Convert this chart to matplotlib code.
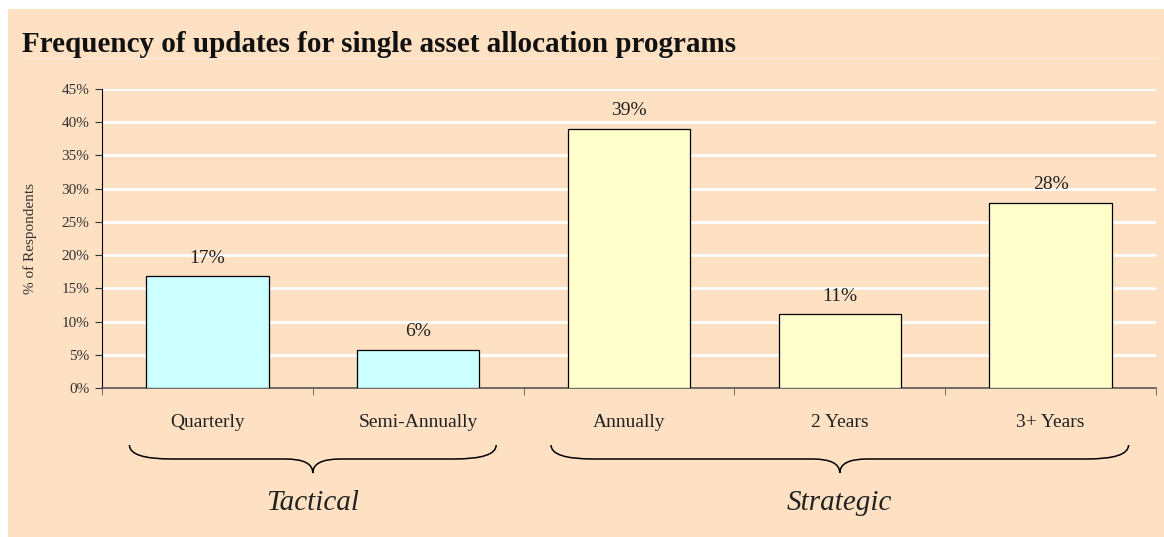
import matplotlib
matplotlib.use("Agg")
import matplotlib.pyplot as plt
from matplotlib.patches import Rectangle, PathPatch
from matplotlib.path import Path
from matplotlib.lines import Line2D
import matplotlib.transforms as mtransforms

# data
categories = ["Quarterly", "Semi-Annually", "Annually", "2 Years", "3+ Years"]
values = [16.8, 5.7, 39.0, 11.1, 27.9]
value_labels = ["17%", "6%", "39%", "11%", "28%"]
groups = ["Tactical", "Tactical", "Strategic", "Strategic", "Strategic"]
group_names = ["Tactical", "Strategic"]
y_ticks = [0, 5, 10, 15, 20, 25, 30, 35, 40, 45]

peach = "#FEE0C3"
bar_colors = {"Tactical": "#CCFFFF", "Strategic": "#FFFFCC"}

plt.rcParams["font.family"] = ["Liberation Serif", "DejaVu Serif"]

W, H = 1164, 537
fig = plt.figure(figsize=(W / 100, H / 100), dpi=100)
fig.patch.set_facecolor("white")

# peach panel with small white margin top/left
fig.patches.append(Rectangle((8 / W, 0), 1 - 8 / W, 1 - 9 / H, transform=fig.transFigure,
                             facecolor=peach, edgecolor="none", zorder=-5))

# title + faint rule under it
fig.text(22 / W, 1 - 45 / H, "Frequency of updates for single asset allocation programs",
         fontsize=21, fontweight="bold", va="center", ha="left", color="#111111")
fig.lines.append(Line2D([22 / W, 1160 / W], [1 - 58 / H, 1 - 58 / H], transform=fig.transFigure,
                        color="#fbeadb", lw=1, zorder=-4))

ax = fig.add_axes([102 / W, 1 - 388 / H, (1156 - 102) / W, (388 - 89) / H])
ax.set_facecolor(peach)

x = list(range(len(categories)))
cols = [bar_colors[g] for g in groups]
ax.bar(x, values, width=0.58, color=cols, edgecolor="black", linewidth=0.9, zorder=3)

for xi, v, lab in zip(x, values, value_labels):
    ax.annotate(lab, (xi, v), xytext=(0, 7), textcoords="offset points",
                ha="center", va="bottom", fontsize=14, color="#222222")

ax.set_xlim(-0.5, len(categories) - 0.5)
ax.set_ylim(0, 45)
ax.set_yticks(y_ticks)
ax.set_yticklabels([f"{t}%" for t in y_ticks], fontsize=11, color="#333333")
for t in y_ticks[1:]:
    ax.axhline(t, color="white", lw=2, zorder=1)

ax.set_xticks(x)
ax.set_xticklabels(categories, fontsize=14, color="#222222")
ax.tick_params(axis="x", which="major", length=0, pad=19)
ax.set_xticks([i - 0.5 for i in range(len(categories) + 1)], minor=True)
ax.tick_params(axis="x", which="minor", length=5, direction="out", color="#555555")
ax.tick_params(axis="y", length=5, direction="out", pad=4, color="#333333")

for s in ["top", "right"]:
    ax.spines[s].set_visible(False)
ax.spines["left"].set_color("black")
ax.spines["bottom"].set_color("#555555")
ax.spines["bottom"].set_linewidth(1.2)

fig.text(30 / W, 1 - 238 / H, "% of Respondents", rotation=90, fontsize=11,
         va="center", ha="center", color="#333333")

# curly braces under groups
trans = mtransforms.blended_transform_factory(ax.transData, fig.transFigure)
y_top = 1 - 445 / H
y_mid = 1 - 459 / H
y_tip = 1 - 473 / H


def brace(x0, x1):
    xc = (x0 + x1) / 2
    r = 0.2
    t = 0.13
    verts = [(x0, y_top), (x0, y_mid), (x0 + r, y_mid),
             (xc - t, y_mid), (xc, y_mid), (xc, y_tip),
             (xc, y_mid), (xc + t, y_mid),
             (x1 - r, y_mid), (x1, y_mid), (x1, y_top)]
    codes = [Path.MOVETO, Path.CURVE3, Path.CURVE3,
             Path.LINETO, Path.CURVE3, Path.CURVE3,
             Path.CURVE3, Path.CURVE3,
             Path.LINETO, Path.CURVE3, Path.CURVE3]
    p = PathPatch(Path(verts, codes), transform=trans, facecolor="none",
                  edgecolor="black", lw=1.1, clip_on=False)
    fig.patches.append(p)
    return xc


for g in group_names:
    idx = [i for i, gg in enumerate(groups) if gg == g]
    xc = brace(min(idx) - 0.37, max(idx) + 0.37)
    fig.text(xc, 1 - 503 / H, g, transform=trans, fontsize=21, style="italic",
             ha="center", va="center", color="#222222")

fig.savefig("out.png", dpi=100)
